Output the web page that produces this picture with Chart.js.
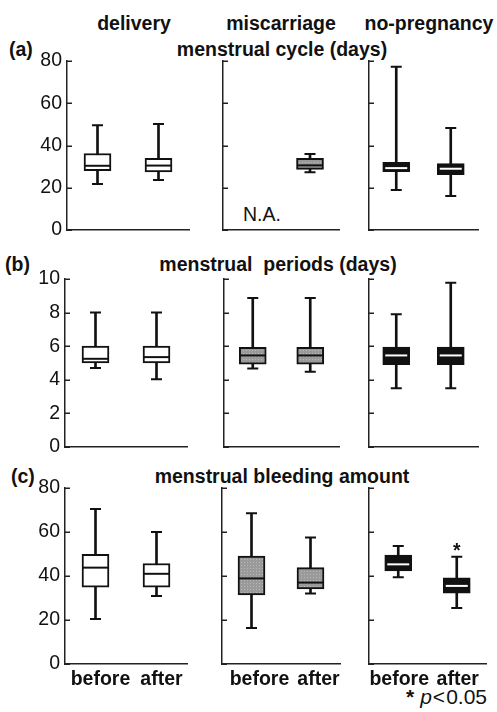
<!DOCTYPE html>
<html><head><meta charset="utf-8">
<script src="https://cdn.jsdelivr.net/npm/chart.js@4/dist/chart.umd.min.js"></script>
<style>
html,body{margin:0;padding:0;background:#fff;}
body{width:497px;height:712px;position:relative;overflow:hidden;font-family:'Liberation Sans',Arial,sans-serif;color:#111;}
.t{position:absolute;font-size:19.5px;line-height:1;white-space:pre;}
.b{font-weight:bold;}
.c{transform:translateX(-50%);}
canvas{position:absolute;}
</style></head><body>
<div class="t b c" style="left:134px;top:14px">delivery</div>
<div class="t b c" style="left:281px;top:14px">miscarriage</div>
<div class="t b c" style="left:429px;top:14px">no-pregnancy</div>
<div class="t b" style="left:9px;top:40px">(a)</div>
<div class="t b c" style="left:282px;top:40px">menstrual cycle (days)</div>
<div class="t b" style="left:5px;top:255px">(b)</div>
<div class="t b c" style="left:278px;top:255px">menstrual  periods (days)</div>
<div class="t b" style="left:11px;top:467px">(c)</div>
<div class="t b c" style="left:282px;top:467px">menstrual bleeding amount</div>
<div class="t c" style="left:262px;top:205px">N.A.</div>
<div class="t" style="right:10px;top:686px;font-size:21px"><span style="margin-right:6px;font-weight:bold">*</span><i>p</i><span style="margin:0 1px">&lt;</span>0.05</div>
<div id="charts"></div>
<script>
// ---------- data ----------
const categories = ['before', 'after'];
const groups = ['delivery', 'miscarriage', 'no-pregnancy'];

// (a) menstrual cycle (days) — one [before, after] pair per group
const cycleMin    = [[21.8, 23.7], [null, 27.3], [18.9, 16.1]];
const cycleQ1     = [[28.1, 27.5], [null, 28.7], [27.6, 26.2]];
const cycleMedian = [[30.4, 30.5], [null, 30.6], [29.3, 29.0]];
const cycleQ3     = [[36.2, 33.9], [null, 33.9], [32.0, 31.4]];
const cycleMax    = [[49.6, 50.2], [null, 36.0], [77.3, 48.3]];

// (b) menstrual periods (days)
const periodMin    = [[4.7, 4.04], [4.68, 4.48], [3.5, 3.5]];
const periodQ1     = [[5.0, 5.0], [4.93, 4.93], [4.9, 4.9]];
const periodMedian = [[5.25, 5.35], [5.45, 5.45], [5.45, 5.45]];
const periodQ3     = [[6.0, 6.0], [5.93, 5.93], [5.95, 5.95]];
const periodMax    = [[8.0, 8.0], [8.87, 8.87], [7.9, 9.77]];

// (c) menstrual bleeding amount
const bleedMin    = [[20.4, 30.9], [16.4, 32.1], [39.4, 25.4]];
const bleedQ1     = [[34.9, 34.9], [31.4, 34.1], [42.3, 32.2]];
const bleedMedian = [[43.8, 41.0], [38.9, 37.0], [45.3, 35.5]];
const bleedQ3     = [[49.8, 45.7], [49.0, 43.8], [49.5, 39.2]];
const bleedMax    = [[70.5, 60.0], [68.5, 57.5], [53.6, 48.7]];
const bleedSignificant = [[false, false], [false, false], [false, true]];

const cycleAxis  = {max: 80, step: 20};
const periodAxis = {max: 10, step: 2};
const bleedAxis  = {max: 80, step: 20};

// ---------- styling / layout ----------
const FONT = "'Liberation Sans', Arial, sans-serif";
function makeGray() {
  const c = document.createElement('canvas'); c.width = 3; c.height = 3;
  const x = c.getContext('2d');
  x.fillStyle = '#9a9a9a'; x.fillRect(0, 0, 3, 3);
  x.fillStyle = '#b9b9b9'; x.fillRect(1, 1, 1, 1);
  return x.createPattern(c, 'repeat');
}
const gray = makeGray();
const boxFill = ['#ffffff', gray, '#111111'];
const medianColor = ['#111111', '#111111', '#ffffff'];
const medianRadius = [13, 13, 11];

const rows = [
  {min: cycleMin, q1: cycleQ1, med: cycleMedian, q3: cycleQ3, max: cycleMax, axis: cycleAxis, top: 61, bottom: 230,
   cols: [[67, 202], [214, 352], [362, 489]], xLabels: false, sig: null},
  {min: periodMin, q1: periodQ1, med: periodMedian, q3: periodQ3, max: periodMax, axis: periodAxis, top: 279, bottom: 447,
   cols: [[65, 200], [215, 352], [362, 489]], xLabels: false, sig: null},
  {min: bleedMin, q1: bleedQ1, med: bleedMedian, q3: bleedQ3, max: bleedMax, axis: bleedAxis, top: 488, bottom: 664,
   cols: [[65, 200], [213, 353], [362, 497]], xLabels: true, sig: bleedSignificant}
];
const labelOffsets = [5, 8, 1];

const innerTicks = {
  id: 'innerTicks',
  afterDraw(chart) {
    const y = chart.scales.y, a = chart.chartArea, ctx = chart.ctx;
    ctx.save(); ctx.strokeStyle = '#222'; ctx.lineWidth = 1.5;
    y.ticks.forEach((t, i) => {
      const py = Math.round(y.getPixelForTick(i)) + 0.25;
      ctx.beginPath(); ctx.moveTo(a.left, py); ctx.lineTo(a.left + 5, py); ctx.stroke();
    });
    ctx.restore();
  }
};
const sigMarks = {
  id: 'sigMarks',
  afterDatasetsDraw(chart, args, opts) {
    if (!opts.sig) return;
    const ctx = chart.ctx, x = chart.scales.x, y = chart.scales.y;
    ctx.save(); ctx.fillStyle = '#111'; ctx.font = 'bold 19.5px ' + FONT;
    ctx.textAlign = 'center'; ctx.textBaseline = 'alphabetic';
    opts.sig.forEach((s, i) => {
      if (!s) return;
      ctx.fillText('*', x.getPixelForValue(i), y.getPixelForValue(opts.max[i]));
    });
    ctx.restore();
  }
};

const holder = document.getElementById('charts');
rows.forEach((row) => {
  row.cols.forEach((col, g) => {
    const showY = g === 0;
    const YW = showY ? 60 : 6, PADT = 20, PADR = 2;
    const XH = row.xLabels ? 34 : 0, PADB = row.xLabels ? 0 : 20;
    const w = YW + (col[1] - col[0]) + PADR;
    const h = PADT + (row.bottom - row.top) + XH + PADB;
    const cv = document.createElement('canvas');
    cv.width = w; cv.height = h;
    cv.style.left = (col[0] - YW) + 'px'; cv.style.top = (row.top - PADT) + 'px';
    cv.style.width = w + 'px'; cv.style.height = h + 'px';
    holder.appendChild(cv);

    const mn = row.min[g], q1 = row.q1[g], md = row.med[g], q3 = row.q3[g], mx = row.max[g];
    const capDs = (data) => ({type: 'line', data, showLine: false, pointStyle: 'line', pointRadius: 5.5,
      pointHoverRadius: 5.5, pointBorderColor: '#111', pointBorderWidth: 2, order: 1});
    new Chart(cv, {
      type: 'bar',
      data: {
        labels: categories,
        datasets: [
          {type: 'line', data: md, showLine: false, pointStyle: 'line', pointRadius: medianRadius[g],
           pointHoverRadius: medianRadius[g], pointBorderColor: medianColor[g], pointBorderWidth: 2, order: 0},
          capDs(mx), capDs(mn),
          {type: 'bar', data: q1.map((v, i) => v == null ? null : [v, q3[i]]), backgroundColor: boxFill[g],
           borderColor: '#111', borderWidth: 2, borderSkipped: false, barThickness: 27, grouped: false, order: 2},
          {type: 'bar', data: mn.map((v, i) => v == null ? null : [v, mx[i]]), backgroundColor: '#111',
           borderWidth: 0, barThickness: 2, grouped: false, order: 3}
        ]
      },
      options: {
        responsive: false, animation: false, events: [], devicePixelRatio: 1,
        layout: {padding: {top: PADT, right: PADR, bottom: PADB, left: 0}},
        plugins: {legend: {display: false}, tooltip: {enabled: false},
          sigMarks: {sig: row.sig ? row.sig[g] : null, max: mx}},
        scales: {
          x: {type: 'category', offset: true,
            grid: {display: false, drawTicks: false},
            border: {display: true, color: '#222', width: 1.5},
            ticks: {display: row.xLabels, color: '#111', padding: 4, labelOffset: labelOffsets[g],
              maxRotation: 0, autoSkip: false, font: {family: FONT, size: 19.5, weight: 'bold'}},
            afterFit: (s) => { s.height = XH; }},
          y: {min: 0, max: row.axis.max,
            grid: {display: false, drawTicks: false},
            border: {display: true, color: '#222', width: 1.5},
            ticks: {display: showY, stepSize: row.axis.step, color: '#111', padding: 5,
              font: {family: FONT, size: 19.5}},
            afterFit: (s) => { s.width = YW; }}
        }
      },
      plugins: [innerTicks, sigMarks]
    });
  });
});
</script>
</body></html>
